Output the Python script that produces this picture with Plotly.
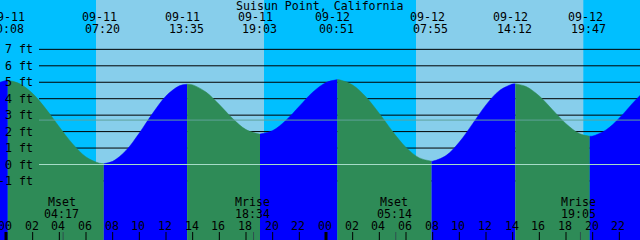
import plotly.graph_objects as go

# ---------------- data ----------------
# hours since 09-11 00:00 and tide height (ft)
hours = [-1, 0, 0.133, 1, 2, 3, 4, 5, 6, 7, 7.333, 8, 9, 10, 11, 12, 13, 13.583,
         14, 15, 16, 17, 18, 19, 19.05, 20, 21, 22, 23, 24, 24.85, 25, 26, 27, 28,
         29, 30, 31, 31.917, 32, 33, 34, 35, 36, 37, 38, 38.2, 39, 40, 41, 42, 43,
         43.783, 44, 45, 46, 47, 48]
heights = [4.87, 5.10, 5.12, 4.92, 4.31, 3.37, 2.28, 1.25, 0.46, 0.08, 0.05, 0.19,
           0.85, 1.91, 3.11, 4.16, 4.78, 4.88, 4.84, 4.40, 3.64, 2.79, 2.12, 1.85,
           1.85, 2.06, 2.69, 3.54, 4.39, 4.98, 5.16, 5.15, 4.83, 4.10, 3.10, 2.00,
           1.04, 0.40, 0.20, 0.20, 0.54, 1.36, 2.48, 3.62, 4.49, 4.89, 4.90, 4.74,
           4.16, 3.32, 2.48, 1.88, 1.72, 1.73, 2.10, 2.82, 3.73, 4.56]

# tide extremes (hours) and their labels
extreme_hours = [0.133, 7.333, 13.583, 19.05, 24.85, 31.917, 38.2, 43.783]
extreme_dates = ["09-11", "09-11", "09-11", "09-11", "09-12", "09-12", "09-12", "09-12"]
extreme_times = ["00:08", "07:20", "13:35", "19:03", "00:51", "07:55", "14:12", "19:47"]

# moon events
moon_hours = [4.283, 18.567, 29.233, 43.083]
moon_names = ["Mset", "Mrise", "Mset", "Mrise"]
moon_times = ["04:17", "18:34", "05:14", "19:05"]

# sun (daylight) intervals
sunrise_hours = [6.75, 30.75]
sunset_hours = [19.35, 43.3]

# axis
ft_levels = [-1, 0, 1, 2, 3, 4, 5, 6, 7]
ft_labels = ["-1 ft", "0 ft", "1 ft", "2 ft", "3 ft", "4 ft", "5 ft", "6 ft", "7 ft"]
hour_ticks = list(range(0, 50, 2))
mean_level = 2.7
title = "Suisun Point, California"

# ---------------- styling ----------------
X_RANGE = [-0.45, 47.55]
Y_RANGE = [-4.59, 10.0]
W, H = 640, 240
NIGHT = "#00BFFF"
DAY = "#87CEEB"
FLOOD = "#0000FF"
EBB = "#2E8B57"
FONT = dict(family="DejaVu Sans Mono", size=11.6, color="black")


def py(p):
    """pixel row -> paper y"""
    return 1 - p / H


fig = go.Figure()

# tide fill segments, split at the extremes
cuts = [0] + [hours.index(e) for e in extreme_hours] + [len(hours) - 1]
for a, b in zip(cuts[:-1], cuts[1:]):
    xs = hours[a:b + 1]
    ys = heights[a:b + 1]
    color = FLOOD if ys[-1] > ys[0] else EBB
    fig.add_trace(go.Scatter(x=[xs[0], xs[-1]], y=[Y_RANGE[0], Y_RANGE[0]],
                             mode="lines", line=dict(width=0), hoverinfo="skip",
                             showlegend=False))
    fig.add_trace(go.Scatter(x=xs, y=ys, mode="lines", fill="tonexty",
                             fillcolor=color, line=dict(width=0.5, color=color, shape="spline"),
                             hoverinfo="skip", showlegend=False))

shapes = []
# daylight backgrounds
for s, e in zip(sunrise_hours, sunset_hours):
    shapes.append(dict(type="rect", xref="x", yref="paper", x0=s, x1=e, y0=0, y1=1,
                       fillcolor=DAY, line=dict(width=0), layer="below"))
# grid lines (behind the tide)
for lv in ft_levels:
    shapes.append(dict(type="line", xref="paper", yref="y", x0=39 / W, x1=1, y0=lv, y1=lv,
                       line=dict(color="black", width=1), layer="below"))
# mean level and datum lines (over the tide)
shapes.append(dict(type="line", xref="paper", yref="y", x0=39 / W, x1=1,
                   y0=mean_level, y1=mean_level, line=dict(color="#5FA39A", width=1)))
shapes.append(dict(type="line", xref="paper", yref="y", x0=39 / W, x1=1,
                   y0=0, y1=0, line=dict(color="#A6DCC8", width=1)))
# hour ticks
for h in hour_ticks:
    shapes.append(dict(type="line", xref="x", yref="paper", x0=h, x1=h, y0=0, y1=py(232),
                       line=dict(color="black", width=3 if h % 24 == 0 else 1)))
# moon ticks
for h in moon_hours:
    shapes.append(dict(type="line", xref="x", yref="paper", x0=h, x1=h, y0=0, y1=py(232),
                       line=dict(color="#2F4F4F", width=1)))

ann = []
ann.append(dict(text=title, x=0.5, xref="paper", y=py(6), yref="paper",
                showarrow=False, font=FONT, xanchor="center", yanchor="middle"))
for i, (h, d, t) in enumerate(zip(extreme_hours, extreme_dates, extreme_times)):
    ann.append(dict(text=d, x=h, xref="x", y=py(17.5), yref="paper", xshift=-4.5 if i else -0.5,
                    showarrow=False, font=FONT, xanchor="center", yanchor="middle"))
    ann.append(dict(text=t, x=h, xref="x", y=py(29), yref="paper", xshift=-0.8,
                    showarrow=False, font=FONT, xanchor="center", yanchor="middle"))
for h, n, t in zip(moon_hours, moon_names, moon_times):
    ann.append(dict(text=n, x=h, xref="x", y=py(201.5), yref="paper", xshift=-1.5,
                    showarrow=False, font=FONT, xanchor="center", yanchor="middle"))
    ann.append(dict(text=t, x=h, xref="x", y=py(213.5), yref="paper", xshift=-1.5,
                    showarrow=False, font=FONT, xanchor="center", yanchor="middle"))
for h in hour_ticks:
    ann.append(dict(text="%02d" % (h % 24), x=h, xref="x", y=py(226), yref="paper", xshift=-1,
                    showarrow=False, font=FONT, xanchor="center", yanchor="middle"))
for lv, lab in zip(ft_levels, ft_labels):
    ann.append(dict(text=lab, x=35 / W, xref="paper", y=lv, yref="y",
                    showarrow=False, font=FONT, xanchor="right", yanchor="middle"))

fig.update_layout(
    width=W, height=H, margin=dict(l=0, r=0, t=0, b=0, pad=0),
    paper_bgcolor=NIGHT, plot_bgcolor=NIGHT,
    xaxis=dict(range=X_RANGE, visible=False, fixedrange=True),
    yaxis=dict(range=Y_RANGE, visible=False, fixedrange=True),
    shapes=shapes, annotations=ann, showlegend=False,
)

fig.write_html("out.html", config={"displayModeBar": False})
